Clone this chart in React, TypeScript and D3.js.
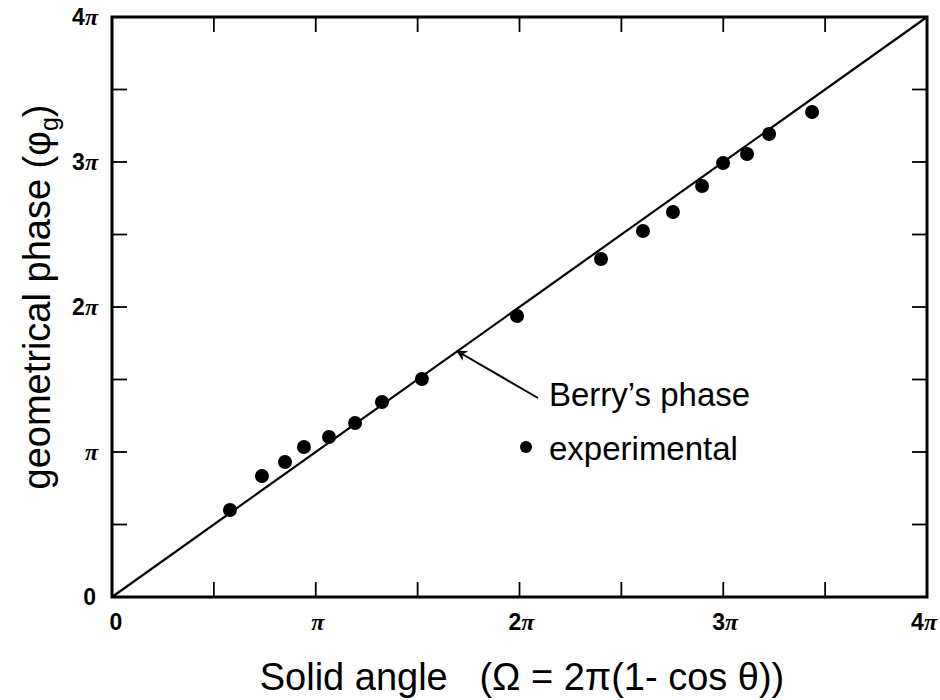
import * as React from 'react';
import * as d3 from 'd3';

// values in units of pi
const solidAngle = [0.579, 0.736, 0.849, 0.942, 1.065, 1.193, 1.325, 1.521, 1.988, 2.40, 2.606, 2.753, 2.896, 2.999, 3.117, 3.225, 3.436];
const phase = [0.600, 0.834, 0.931, 1.034, 1.103, 1.2, 1.345, 1.503, 1.938, 2.331, 2.524, 2.655, 2.834, 2.993, 3.055, 3.193, 3.345];
const tickDigits = ['0', '', '2', '3', '4'];
const minorTicks = [0.5, 1, 1.5, 2, 2.5, 3, 3.5];
const theory = [[0, 0], [4, 4]];

const App: React.FC = () => {
  const svgRef = React.useRef<SVGSVGElement>(null);
  const width = 940, height = 700;
  const m = { left: 112, right: 927, top: 17, bottom: 597 };

  React.useEffect(() => {
    const svg = d3.select(svgRef.current);
    svg.selectAll('*').remove();

    const x = d3.scaleLinear().domain([0, 4]).range([m.left, m.right]);
    const y = d3.scaleLinear().domain([0, 4]).range([m.bottom, m.top]);
    const tl = 15;
    const font = 'Liberation Sans, Arial, sans-serif';

    const g = svg.append('g');

    // ticks on all four sides, pointing inward
    g.selectAll('line.tb').data(minorTicks).enter().append('line')
      .attr('x1', d => x(d)).attr('x2', d => x(d))
      .attr('y1', m.bottom).attr('y2', m.bottom - tl)
      .attr('stroke', 'black').attr('stroke-width', 1.8);
    g.selectAll('line.tt').data(minorTicks).enter().append('line')
      .attr('x1', d => x(d)).attr('x2', d => x(d))
      .attr('y1', m.top).attr('y2', m.top + tl)
      .attr('stroke', 'black').attr('stroke-width', 1.8);
    g.selectAll('line.tl').data(minorTicks).enter().append('line')
      .attr('x1', m.left).attr('x2', m.left + tl)
      .attr('y1', d => y(d)).attr('y2', d => y(d))
      .attr('stroke', 'black').attr('stroke-width', 1.8);
    g.selectAll('line.tr').data(minorTicks).enter().append('line')
      .attr('x1', m.right).attr('x2', m.right - tl)
      .attr('y1', d => y(d)).attr('y2', d => y(d))
      .attr('stroke', 'black').attr('stroke-width', 1.8);

    // frame
    g.append('rect')
      .attr('x', m.left).attr('y', m.top)
      .attr('width', m.right - m.left).attr('height', m.bottom - m.top)
      .attr('fill', 'none').attr('stroke', 'black').attr('stroke-width', 3);

    // tick labels: bold digits + serif pi
    const addLabel = (sel: any, i: number) => {
      sel.append('tspan').text(tickDigits[i]);
      if (i > 0) {
        sel.append('tspan')
          .attr('font-family', 'Liberation Serif, Times New Roman, serif')
          .attr('font-style', 'italic')
          .attr('font-weight', 'bold')
          .attr('font-size', 24)
          .text('π');
      }
    };
    tickDigits.forEach((d, i) => {
      const last = i === tickDigits.length - 1;
      const tx = g.append('text')
        .attr('x', last ? 937 : x(i) + (i === 0 ? 4 : 2)).attr('y', m.bottom + 33)
        .attr('text-anchor', last ? 'end' : 'middle')
        .attr('font-family', font).attr('font-weight', 'bold').attr('font-size', 23);
      addLabel(tx, i);
      const ty = g.append('text')
        .attr('x', i === 0 ? 96 : 98).attr('y', y(i) + 8)
        .attr('text-anchor', 'end')
        .attr('font-family', font).attr('font-weight', 'bold').attr('font-size', 23);
      addLabel(ty, i);
    });

    // theory line
    const line = d3.line<number[]>().x(d => x(d[0])).y(d => y(d[1]));
    g.append('path').datum(theory)
      .attr('d', line)
      .attr('fill', 'none').attr('stroke', 'black').attr('stroke-width', 2.2);

    // experimental points
    g.selectAll('circle.pt').data(solidAngle).enter().append('circle')
      .attr('cx', d => x(d)).attr('cy', (d, i) => y(phase[i]))
      .attr('r', 7).attr('fill', 'black');

    // arrow annotation
    const defs = svg.append('defs');
    defs.append('marker')
      .attr('id', 'arrowHead').attr('viewBox', '0 0 10 10')
      .attr('refX', 9).attr('refY', 5)
      .attr('markerWidth', 11).attr('markerHeight', 11)
      .attr('markerUnits', 'userSpaceOnUse')
      .attr('orient', 'auto')
      .append('path').attr('d', 'M0,0 L10,5 L0,10 L3,5 Z').attr('fill', 'black');
    g.append('line')
      .attr('x1', 538).attr('y1', 398).attr('x2', 457).attr('y2', 351)
      .attr('stroke', 'black').attr('stroke-width', 2)
      .attr('marker-end', 'url(#arrowHead)');

    g.append('text').attr('x', 549).attr('y', 406)
      .attr('font-family', font).attr('font-size', 33).text('Berry’s phase');
    g.append('circle').attr('cx', 526).attr('cy', 447).attr('r', 6).attr('fill', 'black');
    g.append('text').attr('x', 549).attr('y', 460)
      .attr('font-family', font).attr('font-size', 33).text('experimental');

    // axis titles
    g.append('text').attr('x', 522).attr('y', 690)
      .attr('text-anchor', 'middle')
      .attr('font-family', font).attr('font-size', 38)
      .attr('xml:space', 'preserve')
      .text('Solid angle   (Ω = 2π(1- cos θ))');
    const yt = g.append('text')
      .attr('transform', `translate(50, 297) rotate(-90)`)
      .attr('text-anchor', 'middle')
      .attr('font-family', font).attr('font-size', 38);
    yt.append('tspan').text('geometrical phase (φ');
    yt.append('tspan').attr('font-size', 25).attr('dy', 8).text('g');
    yt.append('tspan').attr('dy', -8).text(')');
  }, []);

  return (
    <svg ref={svgRef} width={width} height={height}
      style={{ position: 'absolute', left: 0, top: 0, background: 'white' }} />
  );
};

export default App;
